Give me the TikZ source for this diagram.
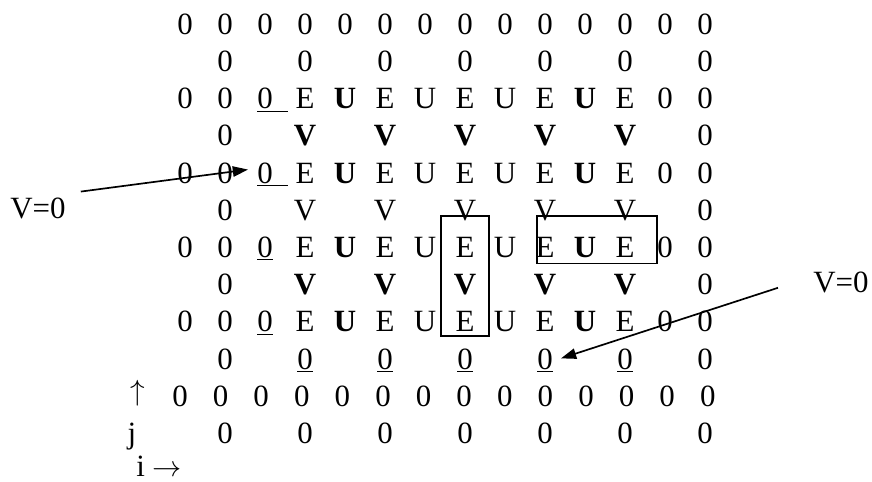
\documentclass[tikz,border=0pt]{standalone}
\usepackage{fontspec}
\setmainfont{Liberation Serif}
\usetikzlibrary{arrows.meta}

\newcommand{\ulzero}{\underline{0}}
\newcommand{\wideul}{\rlap{\underline{0\hspace{.5em}}}\phantom{0}}

\begin{document}
\begin{tikzpicture}[
  x=1cm, y=-0.93cm,
  cell/.style={
    anchor=base,
    inner sep=0pt,
    font=\fontsize{22}{26}\selectfont
  },
  strong/.style={
    cell,
    font=\fontsize{22}{26}\selectfont\bfseries
  },
  tag/.style={
    cell,
    anchor=base west
  },
  frame/.style={draw, line width=1.1pt},
  pointer/.style={-{Triangle[length=3.8mm,width=2.6mm]}, line width=1.2pt}
]
\useasboundingbox (-4.625,-0.922) rectangle (17.175,12.035);

% top border
\foreach \c in {0,...,13} \node[cell] (r0-\c) at (\c,0) {0};
\foreach \c in {1,3,...,13} \node[cell] (r1-\c) at (\c,1) {0};

% E / U rows
\foreach \r/\z in {2/\wideul,4/\wideul,6/\ulzero,8/\ulzero} {
  \foreach \c in {0,1,12,13} \node[cell] (r\r-\c) at (\c,\r) {0};
  \node[cell] (r\r-2) at (2,\r) {\z};
  \foreach \c in {3,5,...,11} \node[cell] (r\r-\c) at (\c,\r) {E};
  \foreach \c in {6,8} \node[cell] (r\r-\c) at (\c,\r) {U};
  \foreach \c in {4,10} \node[strong] (r\r-\c) at (\c,\r) {U};
}

% V rows
\foreach \r/\s in {3/strong,5/cell,7/strong} {
  \node[cell] (r\r-1) at (1,\r) {0};
  \node[cell] (r\r-13) at (13,\r) {0};
  \foreach \c in {3,5,...,11} \node[\s] (r\r-\c) at (\c,\r) {V};
}

% bottom border
\node[cell] (r9-1) at (1,9) {0};
\node[cell] (r9-13) at (13,9) {0};
\foreach \c in {3,5,...,11} \node[cell] (r9-\c) at (\c,9) {\ulzero};
\node[cell, yshift=0.15cm] (jarrow) at (-1.175,10) {$\uparrow$};
\foreach \c in {0,...,13} \node[cell] (r10-\c) at ({-0.125+1.015*\c},10) {0};
\node[cell] (jlabel) at (-1.325,11) {j};
\foreach \c in {1,3,...,13} \node[cell] (r11-\c) at (\c,11) {0};
\node[tag] (ilabel) at (-1.225,11.9) {i $\rightarrow$};

% labels
\node[tag] (leftv) at (-4.375,4.95) {V=0};
\node[tag] (rightv) at (15.7,6.95) {V=0};

% boxes
\draw[frame] ([shift={(-0.6cm,1.04cm)}]r6-7.base) rectangle ([shift={(0.6cm,-0.1cm)}]r8-7.base);
\draw[frame] ([shift={(-0.2cm,1.04cm)}]r6-9.base) rectangle ([shift={(0.8cm,-0.15cm)}]r6-11.base);

\draw[pointer] ([shift={(0.375cm,0.15cm)}]leftv.north east) -- ([shift={(-0.225cm,0.12cm)}]r4-2.west);
\draw[pointer] ([shift={(-0.875cm,-0.125cm)}]rightv.west) -- ([shift={(0.2cm,0.05cm)}]r9-9.east);

\end{tikzpicture}
\end{document}
